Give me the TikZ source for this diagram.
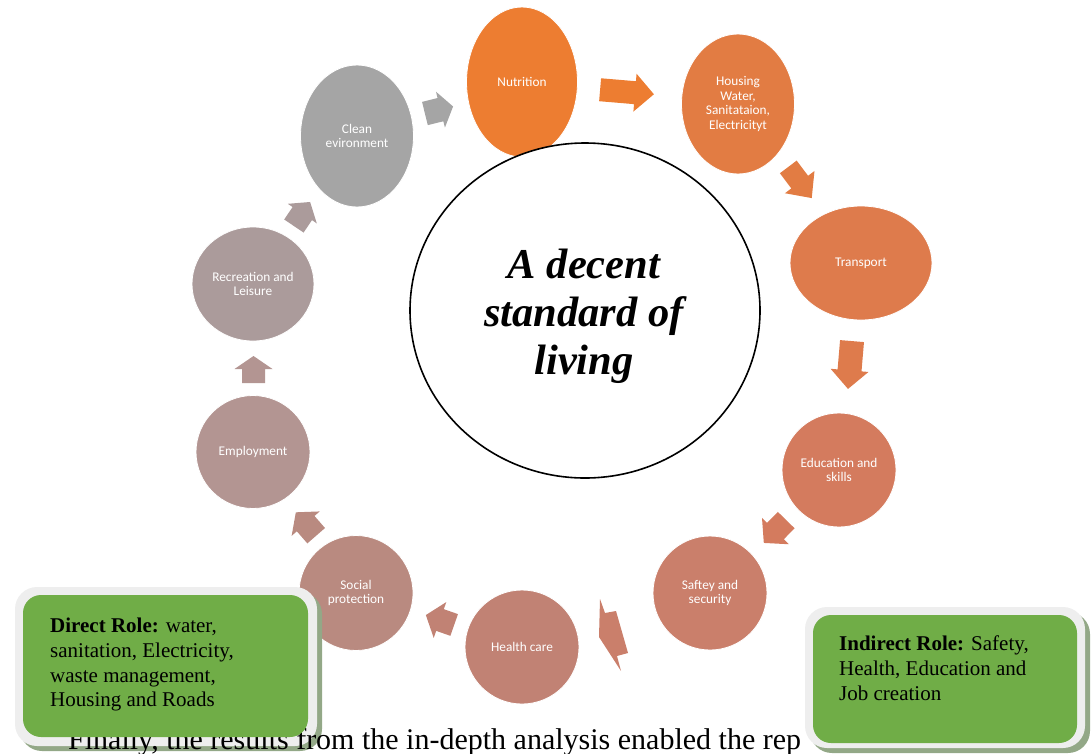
\documentclass[tikz,border=0pt]{standalone}
\usepackage{fontspec}
\setmainfont{Liberation Serif}
\newfontfamily\calibri{Carlito}
\usetikzlibrary{shapes.geometric}

% cycle colours, orange fading to grey
\definecolor{cnut}{HTML}{ED7D31}
\definecolor{chou}{HTML}{E27C43}
\definecolor{ctra}{HTML}{DE7B4C}
\definecolor{cedu}{HTML}{D47B5E}
\definecolor{csaf}{HTML}{CA7F6B}
\definecolor{chea}{HTML}{C18274}
\definecolor{csoc}{HTML}{B98A80}
\definecolor{cemp}{HTML}{B39592}
\definecolor{crec}{HTML}{AB9B9B}
\definecolor{ccle}{HTML}{A5A5A5}
\definecolor{boxgreen}{HTML}{70AD47}
\definecolor{boxframe}{HTML}{EEEEEE}
\definecolor{boxshadow}{HTML}{93A887}

% block arrow: centre x, centre y, angle, length, half shaft, half head, head length, colour
\newcommand\blockarrow[8]{%
  \fill[#8, shift={(#1,#2)}, rotate=#3]
    ({-#4/2},{-#5}) -- ({#4/2-#7},{-#5}) -- ({#4/2-#7},{-#6}) -- ({#4/2},0)
    -- ({#4/2-#7},{#6}) -- ({#4/2-#7},{#5}) -- ({-#4/2},{#5}) -- cycle;}

\tikzset{
  bub/.style={ellipse, draw=white, line width=0.8pt, inner sep=0pt, align=center,
    text=white, font=\calibri\fontsize{13.3}{14.5}\selectfont},
  roletext/.style={anchor=north west, inner sep=0pt, align=left,
    font=\fontsize{21}{24.8}\selectfont}
}

\begin{document}
\begin{tikzpicture}[x=1pt, y=-1pt]
\useasboundingbox (0,0) rectangle (1091,753);

% the ten components
\node[bub, fill=cnut, minimum width=111, minimum height=150] (nut) at (522,82) {Nutrition};
\node[bub, fill=chou, minimum width=113, minimum height=140] (hou) at (738,104) {Housing\\Water,\\Sanitataion,\\Electricityt};
\node[bub, fill=ctra, minimum width=142, minimum height=114] (tra) at (861,263) {Transport};
\node[bub, fill=cedu, minimum width=114, minimum height=114] (edu) at (839,470) {Education and\\skills};
\node[bub, fill=csaf, minimum width=114, minimum height=114] (saf) at (710,593) {Saftey and\\security};
\node[bub, fill=chea, minimum width=114, minimum height=114] (hea) at (522,647) {Health care};
\node[bub, fill=csoc, minimum width=114, minimum height=115] (soc) at (356,593) {Social\\protection};
\node[bub, fill=cemp, minimum width=114, minimum height=113] (emp) at (253,452) {Employment};
\node[bub, fill=crec, minimum width=122, minimum height=114] (rec) at (253,284) {Recreation and\\Leisure};
\node[bub, fill=ccle, minimum width=113, minimum height=142] (cle) at (357,136) {Clean\\evironment};

% arrows around the cycle
\blockarrow{439}{110}{14}{29}{12}{18.5}{13}{ccle}
\blockarrow{627}{92}{-4.8}{54}{11.5}{19}{19}{cnut}
\blockarrow{800}{182.5}{-53}{39}{10.5}{18.5}{20}{chou}
\blockarrow{850}{365}{-94.8}{48}{12}{19}{18.6}{ctra}
\blockarrow{775}{531.5}{-134.4}{32}{11.7}{18.8}{16.6}{cedu}
\fill[csaf] (600,599) -- (605,613) -- (616,611) -- (628,653) -- (617,656) -- (621,671) -- (599,637) -- cycle;
\blockarrow{440}{620}{160.7}{30}{11.5}{19}{15}{chea}
\blockarrow{306}{524}{131}{31}{11.7}{18.6}{15}{csoc}
\blockarrow{253.5}{369.5}{90}{27}{11.5}{19}{13}{cemp}
\blockarrow{302}{214}{56}{29}{11.7}{17.5}{14}{crec}

% central goal
\node[ellipse, draw=black, line width=1.6pt, fill=white, minimum width=350, minimum height=335,
  inner sep=0pt] (goal) at (585,310.5) {};
\node[align=center, inner sep=0pt, font=\fontsize{42.5}{48}\selectfont\bfseries\itshape]
  (goaltext) at (584,316) {A decent\\standard of\\living};

% role boxes: shadow and light frame first
\fill[boxshadow, rounded corners=22] (20,592) rectangle (322,751);
\fill[boxframe, rounded corners=22] (15,587) rectangle (317,746);
\fill[boxshadow, rounded corners=22] (810,612) rectangle (1090,753);
\fill[boxframe, rounded corners=22] (805,607) rectangle (1085,748);

% running text of the page below the figure
\node[anchor=base west, inner sep=0pt, font=\fontsize{30}{34}\selectfont] (para) at (68,749)
  {Finally, the results from the in-depth analysis enabled the rep};

% green faces of the role boxes
\fill[boxgreen, rounded corners=18] (23,595) rectangle (308,737);
\node[roletext] (direct) at (50,617.7)
  {\textbf{Direct Role:} water,\\sanitation, Electricity,\\waste management,\\Housing and Roads};

\fill[boxgreen, rounded corners=18] (813,615) rectangle (1077,743);
\node[roletext] (indirect) at (839,635.7)
  {\textbf{Indirect Role:} Safety,\\Health, Education and\\Job creation};
\end{tikzpicture}
\end{document}
